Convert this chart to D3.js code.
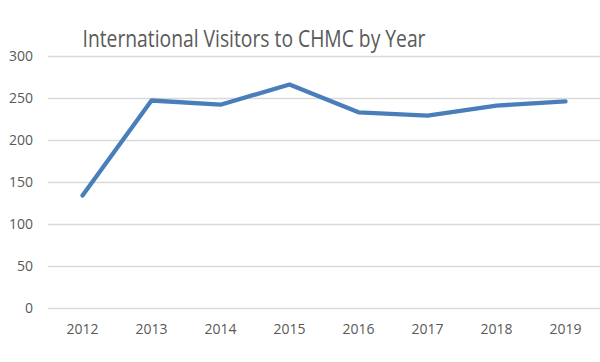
<!DOCTYPE html>
<html>
<head>
<meta charset="utf-8">
<script src="https://cdnjs.cloudflare.com/ajax/libs/d3/7.8.5/d3.min.js"></script>
<style>
  body { margin: 0; background: #fff; }
  svg { display: block; font-family: "Open Sans", "Noto Sans", sans-serif; }
</style>
</head>
<body>
<svg id="chart" width="600" height="362"></svg>
<script>
  var years = ["2012", "2013", "2014", "2015", "2016", "2017", "2018", "2019"];
  var visitors = [134, 247, 242, 266, 233, 229, 241, 246];
  var yTicks = [0, 50, 100, 150, 200, 250, 300];
  var title = "International Visitors to CHMC by Year";

  var plotLeft = 48, plotRight = 600, plotTop = 56, plotBottom = 308;

  var svg = d3.select('#chart');

  var x = d3.scalePoint()
    .domain(years)
    .range([plotLeft, plotRight])
    .padding(0.5);

  var y = d3.scaleLinear()
    .domain([0, 300])
    .range([plotBottom, plotTop]);

  // gridlines
  svg.append('g')
    .selectAll('line')
    .data(yTicks)
    .enter()
    .append('line')
    .attr('x1', plotLeft)
    .attr('x2', plotRight)
    .attr('y1', function(d) { return Math.round(y(d)) + 0.5; })
    .attr('y2', function(d) { return Math.round(y(d)) + 0.5; })
    .attr('stroke', '#d9d9d9')
    .attr('stroke-width', 1.3);

  // y labels
  svg.append('g')
    .selectAll('text')
    .data(yTicks)
    .enter()
    .append('text')
    .attr('x', 33)
    .attr('y', function(d) { return y(d); })
    .attr('dy', '0.35em')
    .attr('text-anchor', 'end')
    .attr('fill', '#595959')
    .style('font-size', '14px')
    .text(function(d) { return d; });

  // x labels
  svg.append('g')
    .selectAll('text')
    .data(years)
    .enter()
    .append('text')
    .attr('x', function(d) { return x(d); })
    .attr('y', 334)
    .attr('text-anchor', 'middle')
    .attr('fill', '#595959')
    .style('font-size', '14px')
    .text(function(d) { return d; });

  // the line
  var line = d3.line()
    .x(function(d, i) { return x(years[i]); })
    .y(function(d) { return y(d); });

  svg.append('path')
    .datum(visitors)
    .attr('d', line)
    .attr('fill', 'none')
    .attr('stroke', '#4a7ebb')
    .attr('stroke-width', 4.3)
    .attr('stroke-linecap', 'round')
    .attr('stroke-linejoin', 'round');

  // title
  svg.append('text')
    .attr('x', 254)
    .attr('y', 47)
    .attr('text-anchor', 'middle')
    .attr('fill', '#595959')
    .style('font-size', '23.5px')
    .attr('textLength', 343)
    .attr('lengthAdjust', 'spacingAndGlyphs')
    .text(title);
</script>
</body>
</html>
